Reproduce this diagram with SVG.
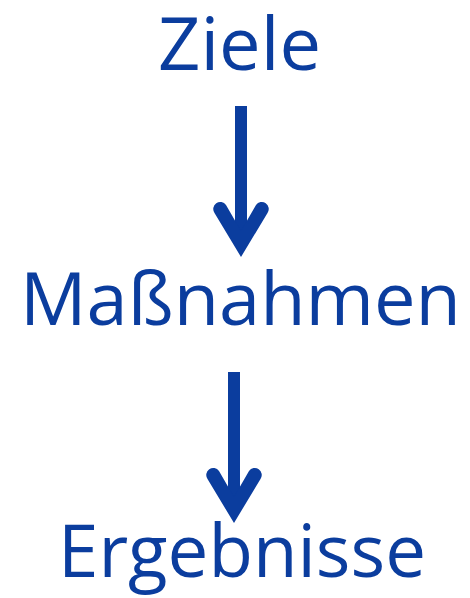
<svg xmlns="http://www.w3.org/2000/svg" width="470" height="598" viewBox="0 0 470 598">
  <style>
    .lbl { font-family: "Open Sans", "Noto Sans", "Liberation Sans", sans-serif; font-size: 74px; fill: #0B3D9E; }
    .arrow { fill: #0B3D9E; }
  </style>
  <defs>
    <g id="arrowShape">
      <rect x="-6" y="0" width="12" height="126"/>
      <path d="M0 151 L-26.5 107 A7 7 0 0 1 -15 99 L0 125 L15 99 A7 7 0 0 1 26.5 107 Z"/>
    </g>
  </defs>
  <rect width="470" height="598" fill="#ffffff"/>
  <g id="connectors" class="arrow">
    <use id="arrow1" href="#arrowShape" transform="translate(241,106)"/>
    <use id="arrow2" href="#arrowShape" transform="translate(234,372)"/>
  </g>
  <g id="ziele">
    <text class="lbl" x="158" y="70" textLength="163" lengthAdjust="spacingAndGlyphs">Ziele</text>
  </g>
  <g id="massnahmen">
    <text class="lbl" x="20" y="325" textLength="441" lengthAdjust="spacingAndGlyphs">Maßnahmen</text>
  </g>
  <g id="ergebnisse">
    <text class="lbl" x="58" y="577" textLength="368" lengthAdjust="spacingAndGlyphs">Ergebnisse</text>
  </g>
</svg>
